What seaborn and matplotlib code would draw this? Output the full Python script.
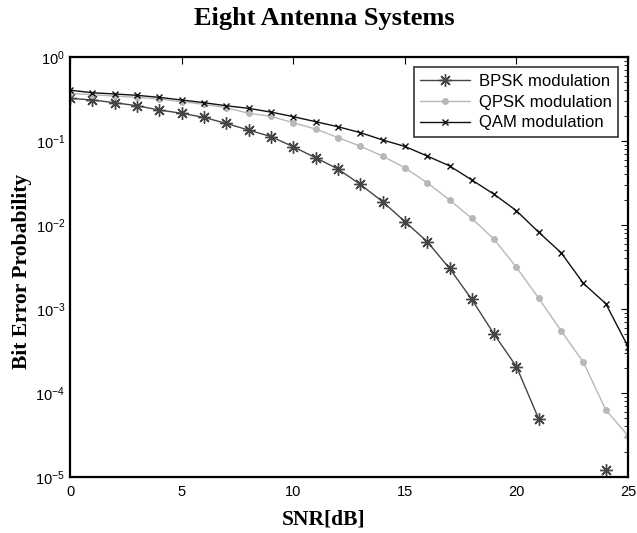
import numpy as np
import pandas as pd
import matplotlib.pyplot as plt
import seaborn as sns

# values (log scale), NaN = no point drawn
snr = list(range(26))
bpsk = [0.322, 0.308, 0.286, 0.263, 0.234, 0.214, 0.191, 0.162, 0.135, 0.113,
        0.0855, 0.0632, 0.0465, 0.0305, 0.019, 0.011, 0.00634, 0.00305, 0.0013, 5.0e-4,
        2.06e-4, 4.9e-5, np.nan, np.nan, 1.21e-5, np.nan]
qpsk = [0.369, 0.356, 0.343, 0.331, 0.316, 0.294, 0.273, 0.249, 0.214, 0.197,
        0.165, 0.139, 0.11, 0.087, 0.0663, 0.048, 0.0319, 0.0199, 0.012, 0.00676,
        0.00313, 0.00134, 5.5e-4, 2.32e-4, 6.3e-5, 3.1e-5]
qam = [0.403, 0.376, 0.363, 0.35, 0.331, 0.308, 0.286, 0.263, 0.245, 0.221,
       0.195, 0.17, 0.148, 0.126, 0.103, 0.0863, 0.0663, 0.0506, 0.0344, 0.0232,
       0.0148, 0.00818, 0.00468, 0.00202, 0.00116, 3.56e-4]

names = ["BPSK modulation", "QPSK modulation", "QAM modulation"]
colors = ["#454545", "#b8b8b8", "#111111"]
markers = [(8, 2, 0), "o", "x"]   # asterisk, dot, cross
msizes = [9, 4, 5]


def make_frame(vals):
    d = pd.DataFrame({"snr": snr, "ber": vals})
    # separate runs split by missing values so the line has gaps
    d["seg"] = d["ber"].isna().cumsum()
    return d.dropna()


sns.set_style("white")
plt.rcParams["font.family"] = ["Liberation Sans", "DejaVu Sans"]
plt.rcParams["text.color"] = "black"
plt.rcParams["axes.labelcolor"] = "black"

fig = plt.figure(figsize=(6.37, 5.33), dpi=100)
ax = fig.add_axes([0.110, 0.105, 0.876, 0.788])

for vals, name, c, m, ms in zip([bpsk, qpsk, qam], names, colors, markers, msizes):
    d = make_frame(vals)
    sns.lineplot(data=d, x="snr", y="ber", units="seg", estimator=None, ax=ax,
                 color=c, marker=m, markersize=ms, markeredgecolor=c,
                 markerfacecolor=c, markeredgewidth=1.0, linewidth=1.0, label=name)

ax.set_yscale("log")
ax.set_xlim(0, 25)
ax.set_ylim(1e-5, 1)
ax.set_xticks([0, 5, 10, 15, 20, 25])

for s in ax.spines.values():
    s.set_linewidth(1.6)
    s.set_color("black")
    s.set_visible(True)
ax.tick_params(which="both", direction="in", top=True, right=True, labelsize=10.5,
               colors="black")
ax.tick_params(which="major", length=5)
ax.tick_params(which="minor", length=3)
ax.tick_params(axis="x", which="major", pad=6)

# title sits centred on the figure, not the axes
fig.text(0.509, 0.966, "Eight Antenna Systems", fontsize=19, fontweight="bold",
         family="Liberation Serif", ha="center", va="center")
ax.set_xlabel("SNR[dB]", fontsize=15.5, fontweight="bold", family="Liberation Serif")
ax.xaxis.set_label_coords(0.455, -0.077)
ax.set_ylabel("Bit Error Probability", fontsize=15.5, fontweight="bold",
              family="Liberation Serif")
ax.yaxis.set_label_coords(-0.068, 0.49)

h, l = ax.get_legend_handles_labels()
seen = dict()
for hh, ll in zip(h, l):
    seen.setdefault(ll, hh)
leg = ax.legend(list(seen.values()), list(seen.keys()), loc="upper right",
                fontsize=12, handlelength=3.0, frameon=True, fancybox=False,
                edgecolor="black", borderaxespad=0.6, labelspacing=0.35,
                borderpad=0.4, handletextpad=0.5)
leg.get_frame().set_linewidth(1.2)

fig.savefig("out.png", dpi=100)
